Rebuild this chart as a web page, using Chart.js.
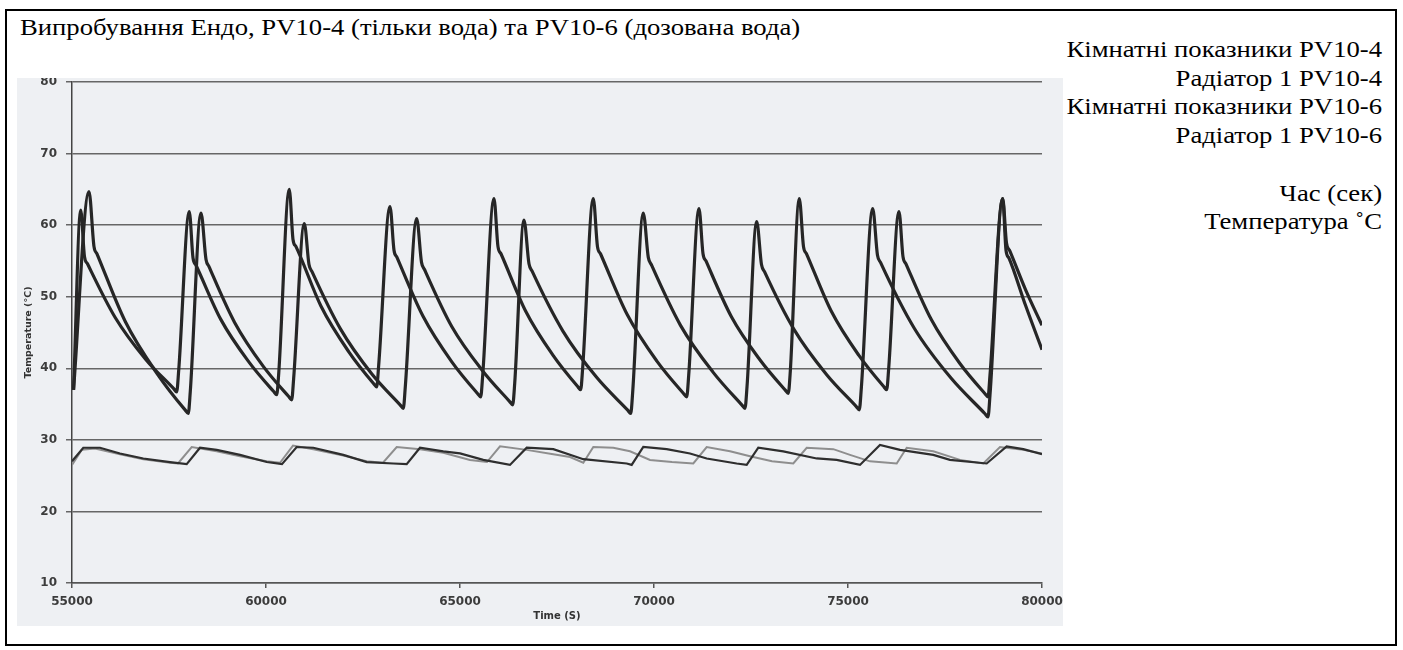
<!DOCTYPE html>
<html lang="uk">
<head>
<meta charset="utf-8">
<title>Випробування Ендо, PV10-4 та PV10-6</title>
<script src="https://cdn.jsdelivr.net/npm/chart.js@4.4.1/dist/chart.umd.min.js"></script>
<style>
  html, body { margin: 0; padding: 0; background: #fff; }
  body { width: 1403px; height: 650px; position: relative; overflow: hidden;
         font-family: "Liberation Serif", "Times New Roman", serif; color: #000; }
  #ramka { position: absolute; left: 5px; top: 9px; width: 1388px; height: 633px; border: 2px solid #000; }
  #nazva { position: absolute; left: 20px; top: 13px; font-size: 23px; line-height: 29px; white-space: nowrap;
           transform: scaleX(1.16); transform-origin: left top; }
  #legenda { position: absolute; right: 21px; top: 36px; font-size: 23px; line-height: 28.7px;
             text-align: right; white-space: nowrap; transform: scaleX(1.16); transform-origin: right top; }
  #pole { position: absolute; left: 17px; top: 78px; width: 1046px; height: 548px; background: #eef0f3; }
  #pole canvas { display: block; }
</style>
</head>
<body>
<div id="ramka"></div>
<div id="nazva">Випробування Ендо, PV10-4 (тільки вода) та PV10-6 (дозована вода)</div>
<div id="legenda">
  <div>Кімнатні показники PV10-4</div>
  <div>Радіатор 1 PV10-4</div>
  <div>Кімнатні показники PV10-6</div>
  <div>Радіатор 1 PV10-6</div>
  <div>&nbsp;</div>
  <div>Час (сек)</div>
  <div>Температура ˚C</div>
</div>
<div id="pole"><canvas id="grafik" width="1046" height="548"></canvas></div>

<script>
// Радіатор 1 PV10-4 (час, с / температура, °C), по циклах
const radPV104Time = [55040,
  55224, 55322, 55399, 56113, 56907, 57621, 57698, 57750,
  58023, 58119, 58196, 58838, 59557, 60199, 60276, 60328,
  60600, 60696, 60773, 61415, 62134, 62776, 62853, 62904,
  63196, 63299, 63376, 64044, 64789, 65456, 65533, 65585,
  65876, 65979, 66056, 66690, 67399, 68033, 68110, 68161,
  68435, 68543, 68621, 69309, 70074, 70766, 70843, 70894,
  71160, 71263, 71340, 71995, 72729, 73384, 73461, 73512,
  73745, 73853, 73931, 74567, 75281, 75920, 75997, 76049,
  76314, 76417, 76494, 77147, 77879, 78531, 78608, 78659,
  78987, 79085, 79162, 79575, 80000];
const radPV104Temp = [37.0,
  62.1, 55.6, 54.6, 47.1, 41.2, 37.15, 36.7, 39.7,
  61.9, 55.4, 54.4, 46.8, 40.9, 36.75, 36.3, 39.3,
  65.0, 58.0, 57.0, 48.7, 42.3, 37.85, 37.4, 40.4,
  62.6, 56.5, 55.5, 47.3, 40.9, 36.45, 36.0, 39.0,
  63.7, 57.0, 56.0, 48.0, 41.8, 37.45, 37.0, 40.0,
  63.7, 57.0, 56.0, 47.5, 41.0, 36.45, 36.0, 39.0,
  62.3, 56.0, 55.0, 47.2, 41.2, 36.95, 36.5, 39.5,
  63.7, 57.0, 56.0, 48.0, 41.8, 37.45, 37.0, 40.0,
  61.9, 55.6, 54.6, 46.8, 40.7, 36.45, 36.0, 39.0,
  63.7, 57.5, 56.5, 51.0, 46.0];

// Радіатор 1 PV10-6
const radPV106Time = [55040,
  55438, 55567, 55644, 56376, 57188, 57920, 57997, 58048,
  58325, 58454, 58531, 59191, 59925, 60585, 60662, 60713,
  60987, 61108, 61186, 61918, 62729, 63462, 63539, 63590,
  63884, 64008, 64085, 64791, 65575, 66281, 66358, 66410,
  66649, 66778, 66856, 67652, 68526, 69322, 69400, 69451,
  69724, 69853, 69930, 70683, 71515, 72268, 72345, 72397,
  72647, 72770, 72848, 73611, 74451, 75214, 75291, 75343,
  75637, 75760, 75838, 76708, 77660, 78531, 78608, 78659,
  78987, 79072, 79149, 79575, 80000];
const radPV106Temp = [37.0,
  64.7, 57.0, 56.0, 46.5, 39.3, 34.15, 33.7, 36.7,
  61.7, 55.2, 54.2, 46.4, 40.3, 36.05, 35.6, 38.6,
  60.2, 54.5, 53.5, 45.5, 39.2, 34.85, 34.4, 37.4,
  60.9, 54.8, 53.8, 45.8, 39.7, 35.35, 34.9, 37.9,
  60.7, 54.6, 53.6, 45.2, 38.7, 34.15, 33.7, 36.7,
  61.7, 55.5, 54.5, 46.0, 39.5, 34.85, 34.4, 37.4,
  60.5, 54.5, 53.5, 45.4, 39.1, 34.65, 34.2, 37.2,
  62.3, 55.8, 54.8, 45.6, 38.6, 33.65, 33.2, 36.2,
  63.7, 56.5, 55.4, 48.8, 42.6];

// Кімнатні показники PV10-4 (сіра лінія)
const roomPV104Time = [55000, 55250, 55593, 56237, 56838, 57526, 57732, 58085, 58729, 59330,
  60018, 60361, 60696, 61219, 61992, 62595, 63015, 63369, 63969, 64570,
  65258, 65696, 66031, 66719, 67405, 67835, 68178, 68436, 68951, 69381,
  69897, 70464, 71013, 71358, 71959, 72474, 73041, 73590, 73936, 74621,
  75052, 75567, 76255, 76513, 77198, 77887, 78487, 78917, 79517, 80000];
const roomPV104Temp = [26.5, 28.6, 28.8, 28.0, 27.3, 26.8, 26.7, 29.0, 28.4, 27.7,
  27.0, 26.8, 29.2, 28.7, 27.8, 27.0, 26.8, 29.0, 28.7, 28.2,
  27.2, 26.9, 29.1, 28.6, 28.0, 27.6, 26.8, 29.0, 28.9, 28.4,
  27.2, 26.9, 26.7, 29.0, 28.4, 27.7, 27.0, 26.7, 28.9, 28.7,
  27.9, 27.0, 26.7, 28.9, 28.4, 27.2, 26.7, 29.0, 28.6, 28.1];

// Кімнатні показники PV10-6 (темна лінія)
const roomPV106Time = [55000, 55291, 55722, 56237, 56838, 57526, 57956, 58299, 58729, 59330,
  60018, 60412, 60791, 61219, 61992, 62595, 63281, 63626, 63969, 64570,
  65000, 65600, 66288, 66719, 67405, 68178, 69297, 69425, 69724, 70327,
  70928, 71358, 72131, 72389, 72688, 73332, 74193, 74708, 75309, 75824,
  76340, 77198, 77628, 78574, 79089, 79517, 80000];
const roomPV106Temp = [27.0, 28.9, 28.9, 28.1, 27.4, 26.9, 26.6, 28.9, 28.6, 27.9,
  26.9, 26.6, 29.0, 28.9, 27.9, 26.9, 26.7, 26.6, 28.9, 28.4,
  28.1, 27.2, 26.5, 28.9, 28.7, 27.3, 26.7, 26.5, 29.0, 28.7,
  28.1, 27.4, 26.7, 26.5, 28.9, 28.4, 27.4, 27.2, 26.5, 29.3,
  28.6, 27.9, 27.2, 26.7, 29.1, 28.7, 28.0];

// Поділки осей
const xTicks = [55000, 60000, 65000, 70000, 75000, 80000];
const yTicks = [10, 20, 30, 40, 50, 60, 70, 80];

function toPoints(t, v) {
  return t.map((x, i) => ({ x: x, y: v[i] }));
}

const tickFont = { family: "DejaVu Sans", weight: "bold", size: 12 };

new Chart(document.getElementById("grafik"), {
  type: "line",
  data: {
    datasets: [
      { label: "Кімнатні показники PV10-4", data: toPoints(roomPV104Time, roomPV104Temp),
        borderColor: "#8e8e8e", borderWidth: 2, pointRadius: 0, tension: 0, order: 4 },
      { label: "Кімнатні показники PV10-6", data: toPoints(roomPV106Time, roomPV106Temp),
        borderColor: "#2e2e2e", borderWidth: 2.2, pointRadius: 0, tension: 0, order: 3 },
      { label: "Радіатор 1 PV10-4", data: toPoints(radPV104Time, radPV104Temp),
        borderColor: "#262626", borderWidth: 3.2, pointRadius: 0, cubicInterpolationMode: "monotone", order: 2 },
      { label: "Радіатор 1 PV10-6", data: toPoints(radPV106Time, radPV106Temp),
        borderColor: "#262626", borderWidth: 3.2, pointRadius: 0, cubicInterpolationMode: "monotone", order: 1 }
    ]
  },
  options: {
    responsive: false,
    animation: false,
    layout: { padding: { top: 4, right: 21, left: 0, bottom: 0 } },
    plugins: { legend: { display: false }, tooltip: { enabled: false } },
    scales: {
      x: {
        type: "linear", min: 55000, max: 80000,
        afterBuildTicks: s => { s.ticks = xTicks.map(v => ({ value: v })); },
        ticks: { callback: v => String(v), font: tickFont, color: "#3c3c3c", padding: 7,
                 maxRotation: 0, autoSkip: false },
        grid: { drawOnChartArea: false, drawTicks: true, tickLength: 5, color: "#555", lineWidth: 1.5 },
        border: { display: true, color: "#555", width: 1.5 },
        title: { display: true, text: "Time (S)", color: "#333",
                 font: { family: "DejaVu Sans", weight: "bold", size: 10 }, padding: { top: 0, bottom: 4 } },
        afterFit: s => { s.height = 43; s.paddingLeft = 0; s.paddingRight = 0; }
      },
      y: {
        min: 10, max: 80,
        afterBuildTicks: s => { s.ticks = yTicks.map(v => ({ value: v })); },
        ticks: { font: tickFont, color: "#3c3c3c", padding: 9 },
        grid: { color: "#666", lineWidth: 1.5, drawTicks: true, tickLength: 6 },
        border: { display: true, color: "#444", width: 1.5 },
        title: { display: true, text: "Temperature (°C)", color: "#333",
                 font: { family: "DejaVu Sans", weight: "bold", size: 9.5 }, padding: { top: 6, bottom: 0 } },
        afterFit: s => { s.width = 55; s.paddingTop = 0; s.paddingBottom = 0; }
      }
    }
  }
});
</script>
</body>
</html>
